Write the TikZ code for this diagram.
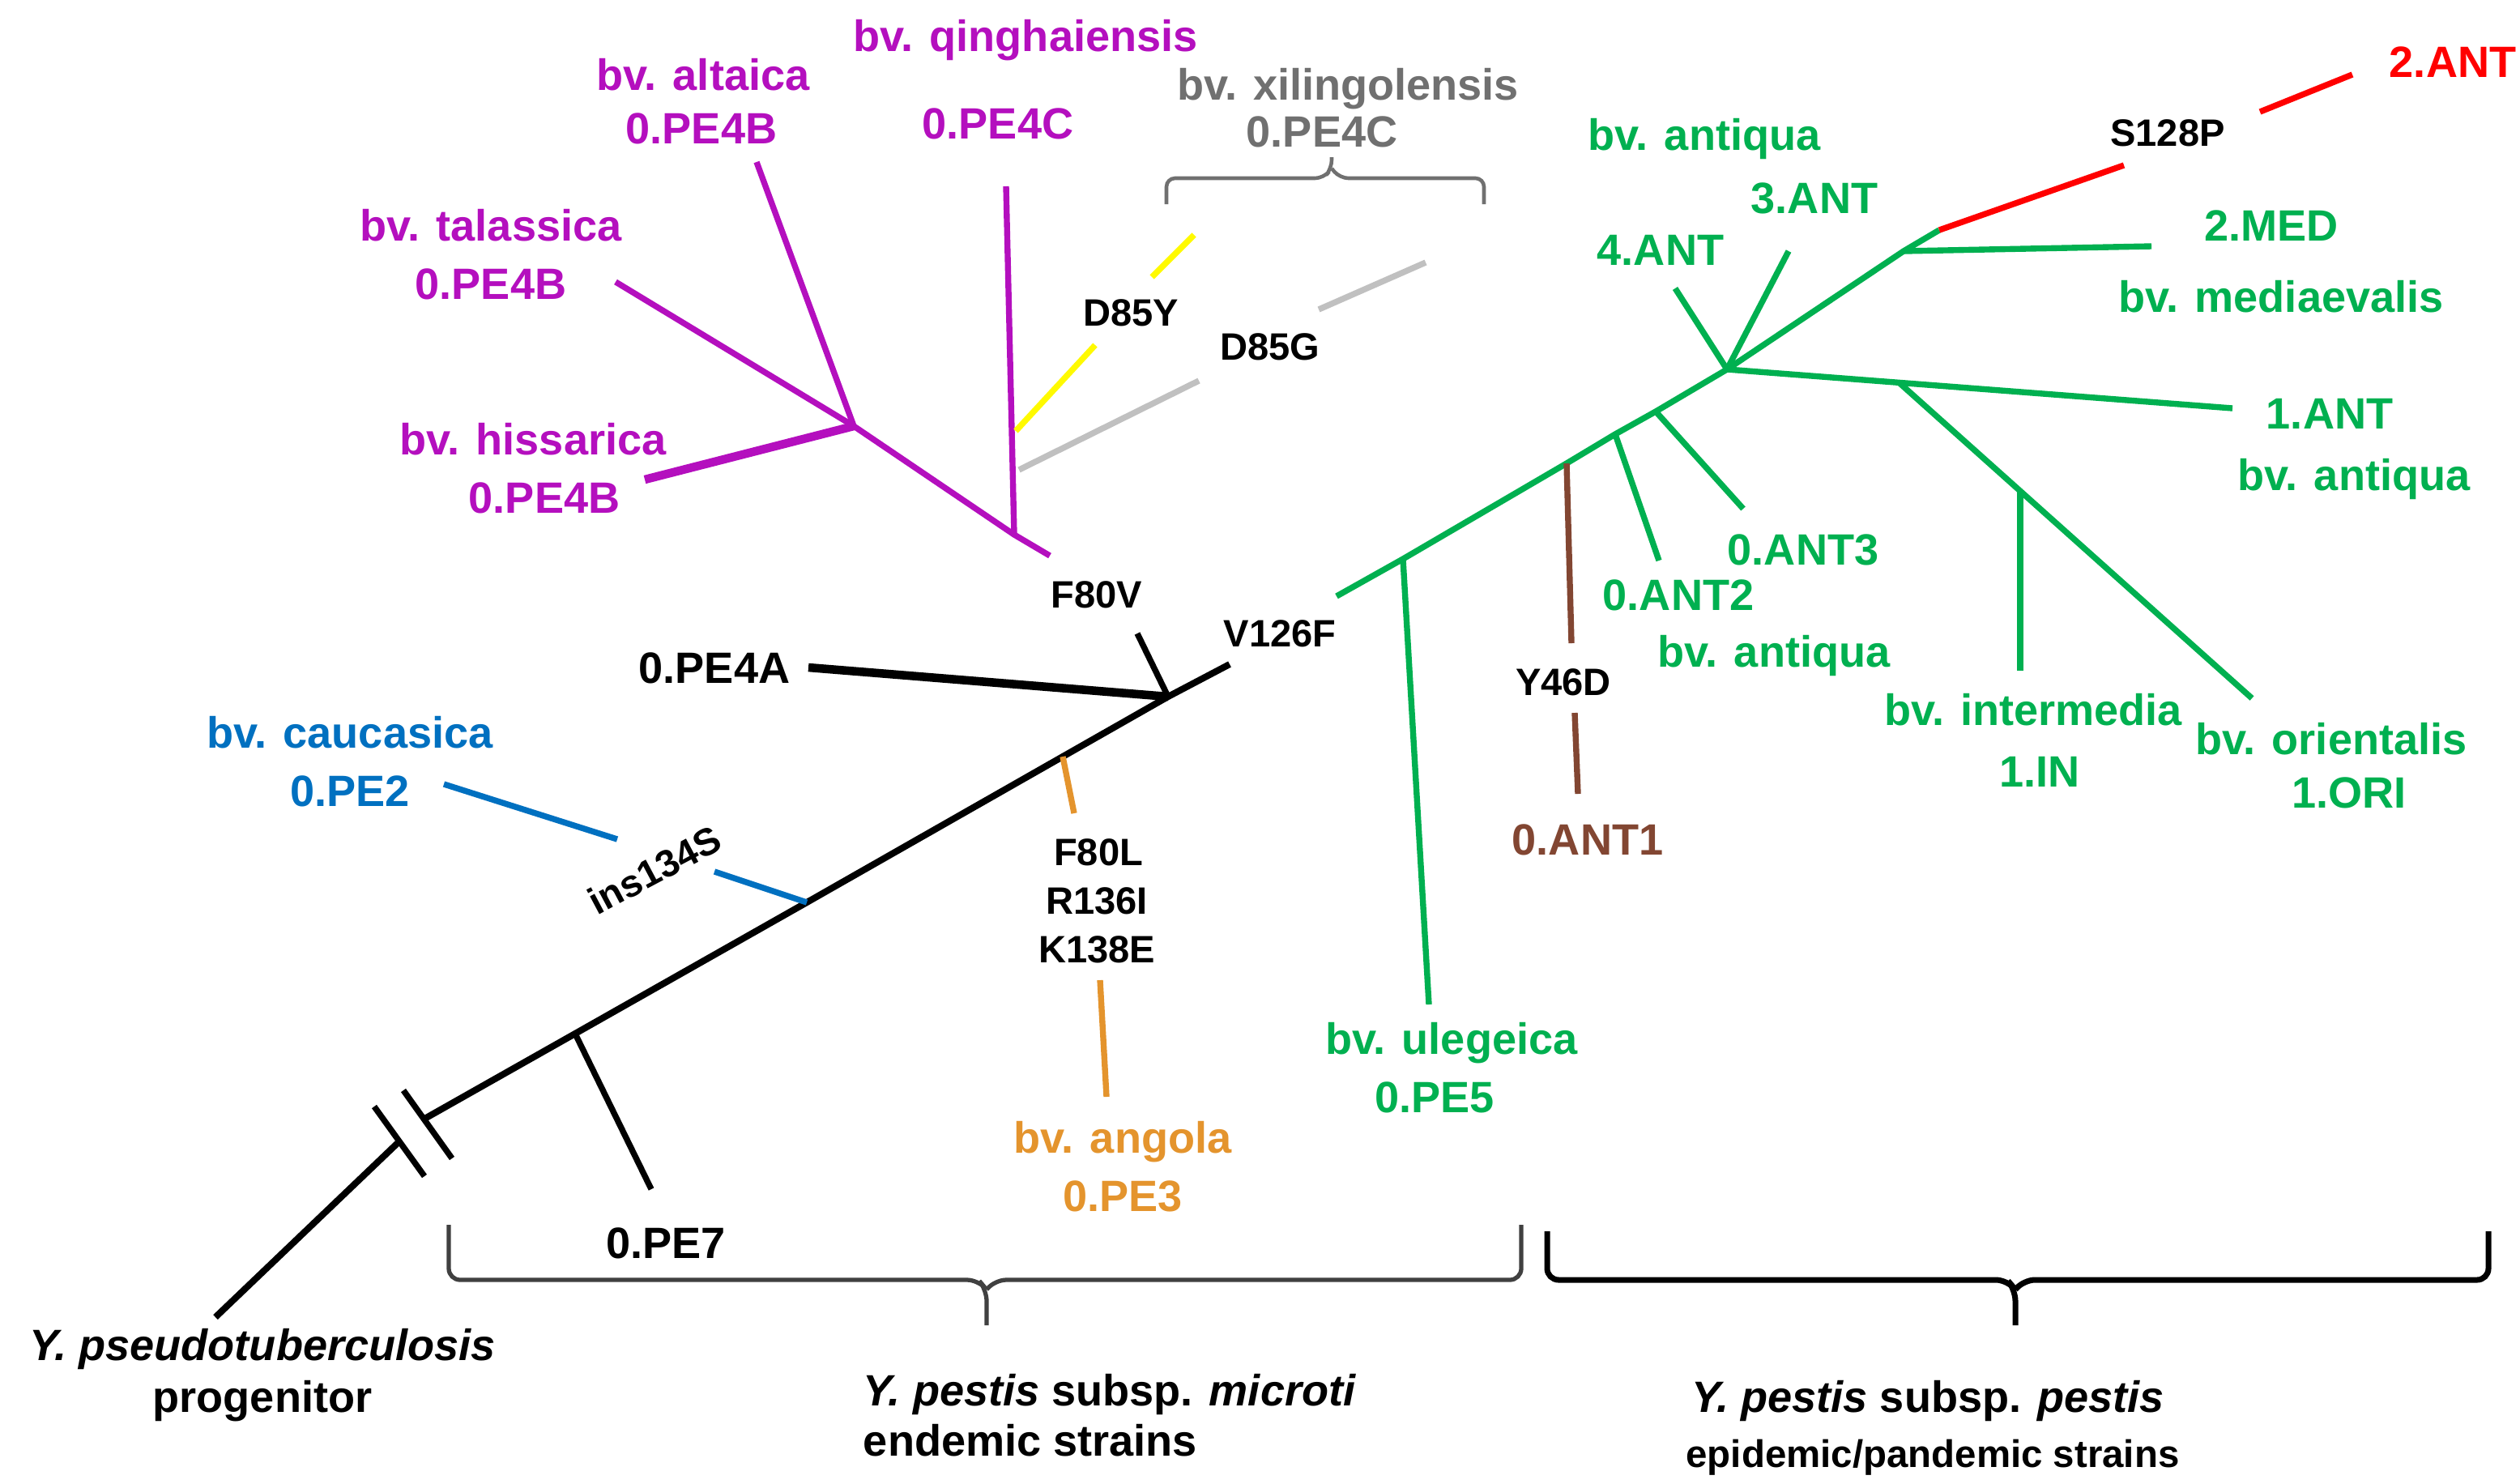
\documentclass[tikz,border=0pt]{standalone}
\usepackage{fontspec}
\setmainfont{Liberation Sans}
\definecolor{pemag}{RGB}{180,15,190}
\definecolor{pegreen}{RGB}{0,176,80}
\definecolor{peblue}{RGB}{0,112,192}
\definecolor{peorange}{RGB}{228,148,45}
\definecolor{pebrown}{RGB}{130,70,50}
\definecolor{pegray}{RGB}{112,112,112}
\definecolor{pelight}{RGB}{192,192,192}
\definecolor{peyellow}{RGB}{255,250,0}

\begin{document}
\begin{tikzpicture}[x=0.02cm,y=-0.02cm,line width=2.1pt,node distance=0.72cm,
  clade label/.style={font=\fontsize{15.4}{18}\selectfont\bfseries,inner sep=0pt,text height=11pt,text depth=0pt},
  mut label/.style={font=\fontsize{13.4}{16}\selectfont\bfseries,inner sep=0pt,text height=9.6pt,text depth=0pt},
  fat/.style={line width=3pt}]

  \useasboundingbox (0,0) rectangle (1555.5,915.5);

  % trunk
  \coordinate (root) at (133,813);
  \coordinate (cutlow) at (246,705);
  \coordinate (cuthigh) at (263,690);
  \coordinate (pe7) at (355,638);
  \coordinate (pe2) at (498,557);
  \coordinate (pe3) at (656,467);
  \coordinate (pe4a) at (721,430);
  \coordinate (trunktop) at (759,410);
  \draw[line width=2.3pt] (root) -- (cutlow);
  \draw[line width=2.3pt] (cuthigh) -- (pe7) -- (pe2) -- (pe3) -- (pe4a) -- (trunktop);
  \draw (231,683) -- (262,726);
  \draw (249,673) -- (279,715);

  % black side branches
  \coordinate (pe7end) at (402,734);
  \coordinate (pe4aend) at (499,412);
  \coordinate (f80vtop) at (702,391);
  \draw (pe7) -- (pe7end);
  \draw[fat] (pe4aend) -- (pe4a);
  \draw (pe4a) -- (f80vtop);

  % blue, orange
  \coordinate (pe2a) at (274,484);
  \coordinate (pe2b) at (381,518);
  \coordinate (pe2c) at (441,538);
  \draw[peblue] (pe2a) -- (pe2b);
  \draw[peblue] (pe2c) -- (pe2);
  \coordinate (pe3a) at (663,502);
  \coordinate (pe3b) at (679,605);
  \coordinate (pe3end) at (683,677);
  \draw[peorange] (pe3) -- (pe3a);
  \draw[peorange] (pe3b) -- (pe3end);

  % magenta group
  \coordinate (magfoot) at (648,343);
  \coordinate (maghub) at (527,263);
  \coordinate (qingfoot) at (626,330);
  \coordinate (xilyfoot) at (627,266);
  \coordinate (xilgfoot) at (629,290);
  \draw[pemag] (magfoot) -- (qingfoot) -- (maghub) -- (380,174);
  \path[pemag] (maghub) edge (467,100)
                        edge[fat] (398,296);
  \draw[pemag] (qingfoot) -- (621,115);
  \draw[peyellow] (xilyfoot) -- (676,213);
  \draw[peyellow] (711,171) -- (737,145);
  \draw[pelight] (xilgfoot) -- (740,235);
  \draw[pelight] (814,191) -- (880,162);
  \draw[pegray,line width=1.3pt,rounded corners=3pt] (720,126) |- (817,110) -- (822,104) -- (822,97);
  \draw[pegray,line width=1.3pt,rounded corners=3pt] (916,126) |- (827,110) -- (822,104);

  % green group
  \coordinate (greenstart) at (825,368);
  \coordinate (pe5) at (866,345);
  \coordinate (ant1) at (967,286);
  \coordinate (ant2) at (997,268);
  \coordinate (ant3) at (1022,254);
  \coordinate (hub) at (1066,228);
  \coordinate (med) at (1175,155);
  \coordinate (redfoot) at (1197,142);
  \coordinate (orifoot) at (1172,236);
  \coordinate (infoot) at (1247,303);
  \draw[pegreen] (greenstart) -- (pe5) -- (ant1) -- (ant2) -- (ant3) -- (hub) -- (med) -- (redfoot);
  \path[pegreen] (pe5) edge (882,620)
                 (ant2) edge (1024,346)
                 (ant3) edge (1076,314)
                 (hub) edge (1034,178)
                       edge (1104,155)
                       edge (1378,252)
                 (med) edge (1328,152)
                 (orifoot) edge (1390,431)
                 (infoot) edge (1247,414);
  \draw[red] (redfoot) -- (1311,102);
  \draw[red] (1395,69) -- (1452,46);
  \draw[pebrown] (ant1) -- (970,397);
  \draw[pebrown] (972,440) -- (974,490);

  % braces
  \draw[darkgray,line width=1.5pt,rounded corners=4pt] (277,756) |- (604,790) -- (609,796) -- (609,818);
  \draw[darkgray,line width=1.5pt,rounded corners=4pt] (939,756) |- (614,790) -- (609,796);
  \draw[line width=2pt,rounded corners=4pt] (955,760) |- (1239,790) -- (1244,796) -- (1244,818);
  \draw[line width=2pt,rounded corners=4pt] (1536,760) |- (1249,790) -- (1244,796);

  % labels
  \begin{scope}[every node/.append style={clade label}]
    \node[pemag] (qing) at (633,22) {bv. qinghaiensis};
    \node[pemag] (qingpe) at (616,76) {0.PE4C};
    \node[pemag] (alt) at (434,46) {bv. altaica};
    \node[pemag] (altpe) at (433,79) {0.PE4B};
    \node[pemag] (tal) at (303,139) {bv. talassica};
    \node[pemag] (talpe) [below of=tal] {0.PE4B};
    \node[pemag] (his) at (329,271) {bv. hissarica};
    \node[pemag] (hispe) [below of=his, xshift=4] {0.PE4B};
    \node[pegray] (xil) at (832,52) {bv. xilingolensis};
    \node[pegray] (xilpe) at (816,81) {0.PE4C};
    \node (pe4alab) at (441,412) {0.PE4A};
    \node (pe7lab) at (411,767) {0.PE7};
    \node[peblue] (cau) at (216,452) {bv. caucasica};
    \node[peblue] (caupe) [below of=cau] {0.PE2};
    \node[peorange] (ang) at (693,702) {bv. angola};
    \node[peorange] (angpe) [below of=ang] {0.PE3};
    \node[pegreen] (ule) at (896,641) {bv. ulegeica};
    \node[pegreen] (ulepe) [below of=ule, xshift=-6] {0.PE5};
    \node[pebrown] (ant1lab) at (980,518) {0.ANT1};
    \node[pegreen] (ant2lab) at (1036,367) {0.ANT2};
    \node[pegreen] (ant2bv) at (1095,402) {bv. antiqua};
    \node[pegreen] (ant3lab) at (1113,339) {0.ANT3};
    \node[pegreen] (inbv) at (1255,438) {bv. intermedia};
    \node[pegreen] (inlab) at (1259,476) {1.IN};
    \node[pegreen] (oribv) at (1439,456) {bv. orientalis};
    \node[pegreen] (orilab) at (1450,489) {1.ORI};
    \node[pegreen] (ant1n) at (1438,255) {1.ANT};
    \node[pegreen] (ant1bv) at (1453,293) {bv. antiqua};
    \node[pegreen] (medlab) at (1402,139) {2.MED};
    \node[pegreen] (medbv) at (1408,183) {bv. mediaevalis};
    \node[pegreen] (ant4lab) at (1025,154) {4.ANT};
    \node[pegreen] (ant3n) at (1120,122) {3.ANT};
    \node[pegreen] (ant3bv) at (1052,83) {bv. antiqua};
    \node[red] (ant2n) at (1514,38) {2.ANT};
    \node (pstb) at (162,830) {\textit{Y. pseudotuberculosis}};
    \node (prog) at (162,862) {progenitor};
    \node (micro) at (685,858) {\textit{Y. pestis} subsp. \textit{microti}};
    \node (endem) at (636,889) {endemic strains};
    \node (pestis) at (1190,862) {\textit{Y. pestis} subsp. \textit{pestis}};
    \node[font=\fontsize{13.5}{16}\selectfont\bfseries] (epid) at (1193,896) {epidemic/pandemic strains};
  \end{scope}
  \begin{scope}[every node/.append style={mut label}]
    \node (s128p) at (1338,82) {S128P};
    \node (d85y) at (698,193) {D85Y};
    \node (d85g) at (784,214) {D85G};
    \node (f80v) at (677,367) {F80V};
    \node (v126f) at (790,391) {V126F};
    \node (y46d) at (965,421) {Y46D};
    \node (f80l) at (678,526) {F80L};
    \node (r136i) at (677,556) {R136I};
    \node (k138e) at (677,586) {K138E};
    \node[rotate=28] (ins) at (404,537) {ins134S};
  \end{scope}
\end{tikzpicture}
\end{document}
